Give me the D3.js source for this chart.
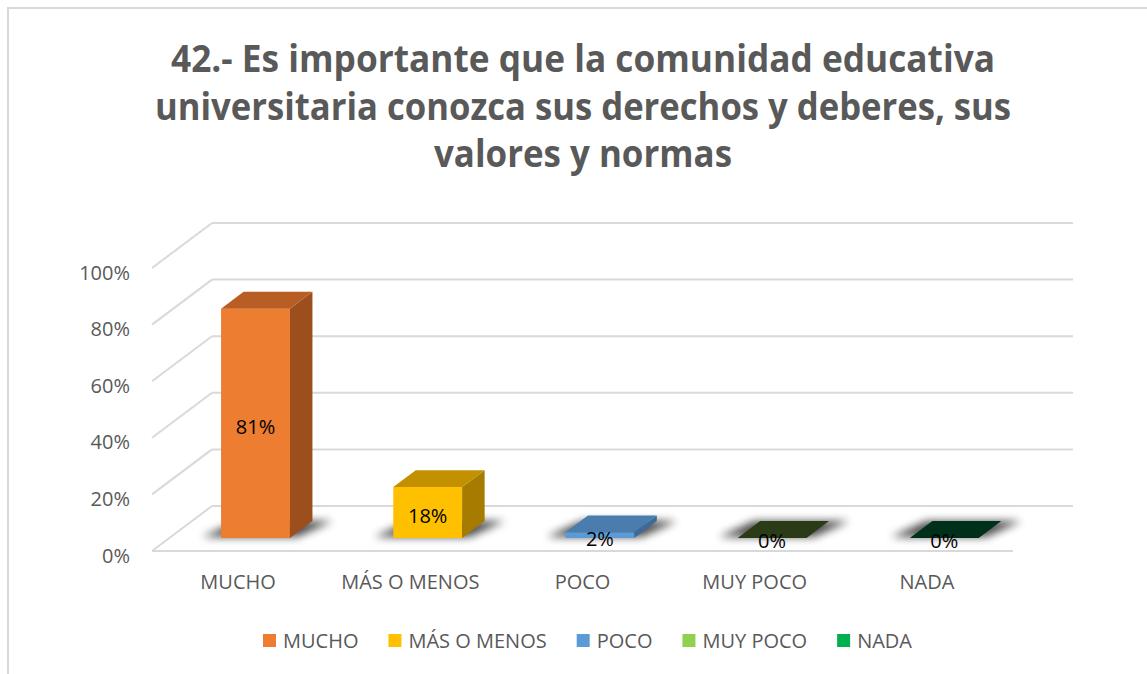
<!DOCTYPE html>
<html lang="es">
<head>
<meta charset="utf-8">
<script src="https://cdn.jsdelivr.net/npm/d3@7/dist/d3.min.js"></script>
<style>
  html, body { margin: 0; padding: 0; background: #fff; }
  svg { display: block; font-family: "Open Sans", "Noto Sans", sans-serif; }
  svg text { font-family: "Open Sans", "Noto Sans", sans-serif; }
</style>
</head>
<body>
<svg id="chart" width="1147" height="674"></svg>
<script>
// ---- data ----
const categories = ["MUCHO", "MÁS O MENOS", "POCO", "MUY POCO", "NADA"];
const values = [0.81, 0.18, 0.02, 0, 0];
const yTicks = [0, 0.2, 0.4, 0.6, 0.8, 1.0];
const titleLines = [
  "42.- Es importante que la comunidad educativa",
  "universitaria conozca sus derechos y deberes, sus",
  "valores y normas"
];

// ---- colours (legend swatch, front, side, top faces) ----
const legendColors = ["#ED7D31", "#FFC000", "#5B9BD5", "#92D050", "#00B050"];
const frontColors  = ["#ED7D31", "#FFC000", "#5B9BD5", "#3A4D1F", "#003F22"];
const sideColors   = ["#9C4E1C", "#A67C00", "#3D6A96", "#1F2A10", "#002010"];
const topColors    = ["#B85D23", "#C39100", "#4A7DAE", "#2B3A17", "#00301A"];

const svg = d3.select("#chart");
const W = 1147, H = 674;
const textGray = "#595959";
const gridGray = "#d9d9d9";

// chart frame (top and left edges visible)
svg.append("path")
  .attr("d", `M8,${H} L8,8 L${W},8`)
  .attr("fill", "none").attr("stroke", gridGray).attr("stroke-width", 2);

// ---- title ----
const titleWidths = [824, 856, 298];
const titleBase = [72, 120, 167];
svg.append("g").selectAll("text").data(titleLines).join("text")
  .attr("x", 583).attr("y", (d, i) => titleBase[i])
  .attr("text-anchor", "middle")
  .attr("font-size", 37).attr("font-weight", 700).attr("fill", textGray)
  .attr("textLength", (d, i) => titleWidths[i])
  .attr("lengthAdjust", "spacingAndGlyphs")
  .text(d => d);

// ---- 3D projection: front plane scales plus an oblique depth offset ----
const x = d3.scaleBand().domain(categories).range([152, 1013])
  .paddingInner(0.6).paddingOuter(0.3);
const y = d3.scaleLinear().domain([0, 1]).range([551, 268]);
const DX = 60, DY = -45;        // screen offset for full depth
const Z0 = 0.29, Z1 = 0.665;    // bar depth span
const P = (xs, v, z) => [xs + DX * z, y(v) + DY * z];
const poly = pts => "M" + pts.map(p => p.join(",")).join("L") + "Z";

const defs = svg.append("defs");
defs.append("filter").attr("id", "soft")
  .attr("x", "-30%").attr("y", "-100%").attr("width", "160%").attr("height", "300%")
  .append("feGaussianBlur").attr("stdDeviation", 4.5);

// ---- walls: gridlines on back wall and left side wall ----
const xL = x.range()[0], xR = x.range()[1];
const grid = svg.append("g").attr("stroke", gridGray).attr("stroke-width", 2).attr("fill", "none");
grid.selectAll("line.back").data(yTicks).join("line")
  .attr("class", "back")
  .attr("x1", d => P(xL, d, 1)[0]).attr("y1", d => P(xL, d, 1)[1])
  .attr("x2", d => P(xR, d, 1)[0]).attr("y2", d => P(xR, d, 1)[1]);
grid.selectAll("line.side").data(yTicks).join("line")
  .attr("class", "side")
  .attr("x1", d => P(xL, d, 0)[0]).attr("y1", d => P(xL, d, 0)[1])
  .attr("x2", d => P(xL, d, 1)[0]).attr("y2", d => P(xL, d, 1)[1]);
// floor front edge
grid.append("line")
  .attr("x1", P(xL, 0, 0)[0]).attr("y1", P(xL, 0, 0)[1])
  .attr("x2", P(xR, 0, 0)[0]).attr("y2", P(xR, 0, 0)[1]);

// ---- bars ----
const bars = svg.append("g").selectAll("g").data(categories).join("g");

// soft floor shadow around each footprint
bars.append("path")
  .attr("d", c => {
    const x0 = x(c), x1 = x0 + x.bandwidth();
    const a = P(x0, 0, Z0 + 0.02), b = P(x1, 0, Z0 + 0.02);
    const e = P(x1, 0, Z1), f = P(x0, 0, Z1);
    return poly([[a[0] - 20, a[1]], [b[0] + 6, b[1]], [e[0] + 20, e[1]], [f[0] - 6, f[1]]]);
  })
  .attr("fill", "#000").attr("opacity", 0.7).attr("filter", "url(#soft)");

bars.append("path") // front face
  .attr("d", (c, i) => {
    const x0 = x(c), x1 = x0 + x.bandwidth(), v = values[i];
    return poly([P(x0, v, Z0), P(x1, v, Z0), P(x1, 0, Z0), P(x0, 0, Z0)]);
  })
  .attr("fill", (c, i) => frontColors[i]);

bars.append("path") // right side face
  .attr("d", (c, i) => {
    const x1 = x(c) + x.bandwidth(), v = values[i];
    return poly([P(x1, 0, Z0), P(x1, v, Z0), P(x1, v, Z1), P(x1, 0, Z1)]);
  })
  .attr("fill", (c, i) => sideColors[i]);

bars.append("path") // top face
  .attr("d", (c, i) => {
    const x0 = x(c), x1 = x0 + x.bandwidth(), v = values[i];
    return poly([P(x0, v, Z0), P(x1, v, Z0), P(x1, v, Z1), P(x0, v, Z1)]);
  })
  .attr("fill", (c, i) => topColors[i]);

// value labels centred on the front face
const pct = d3.format(".0%");
svg.append("g").selectAll("text").data(categories).join("text")
  .attr("x", c => P(x(c) + x.bandwidth() / 2, 0, Z0)[0])
  .attr("y", (c, i) => P(0, values[i] / 2, Z0)[1] + 10.5)
  .attr("text-anchor", "middle")
  .attr("font-size", 20).attr("fill", "#000")
  .text((c, i) => pct(values[i]));

// ---- axes ----
const yAxis = d3.axisLeft(y).tickValues(yTicks).tickFormat(pct).tickSize(0).tickPadding(0);
const gy = svg.append("g").attr("transform", "translate(130,0)").call(yAxis)
  .attr("font-family", null).attr("font-size", null);
gy.select(".domain").remove();
gy.selectAll("text").attr("font-size", 20)
  .attr("fill", textGray).attr("dy", "0.55em");

const xAxis = d3.axisBottom(x).tickSize(0).tickPadding(0);
const gx = svg.append("g").attr("transform", "translate(0,589)").call(xAxis)
  .attr("font-family", null).attr("font-size", null);
gx.select(".domain").remove();
gx.selectAll("text").attr("font-size", 20)
  .attr("fill", textGray).attr("dy", 0).attr("y", 0);

// ---- legend ----
const legend = svg.append("g").attr("transform", "translate(0,648)");
const items = legend.selectAll("g").data(categories).join("g");
items.append("rect").attr("y", -14).attr("width", 13).attr("height", 13)
  .attr("fill", (c, i) => legendColors[i]);
items.append("text").attr("x", 20).attr("y", 0)
  .attr("font-size", 20).attr("fill", textGray).text(c => c);
let cursor = 0;
const offsets = [];
items.each(function () {
  offsets.push(cursor);
  cursor += 20 + this.querySelector("text").getComputedTextLength() + 30;
});
const total = cursor - 30;
const start = 587.5 - total / 2;
items.attr("transform", (c, i) => `translate(${start + offsets[i]},0)`);
</script>
</body>
</html>
